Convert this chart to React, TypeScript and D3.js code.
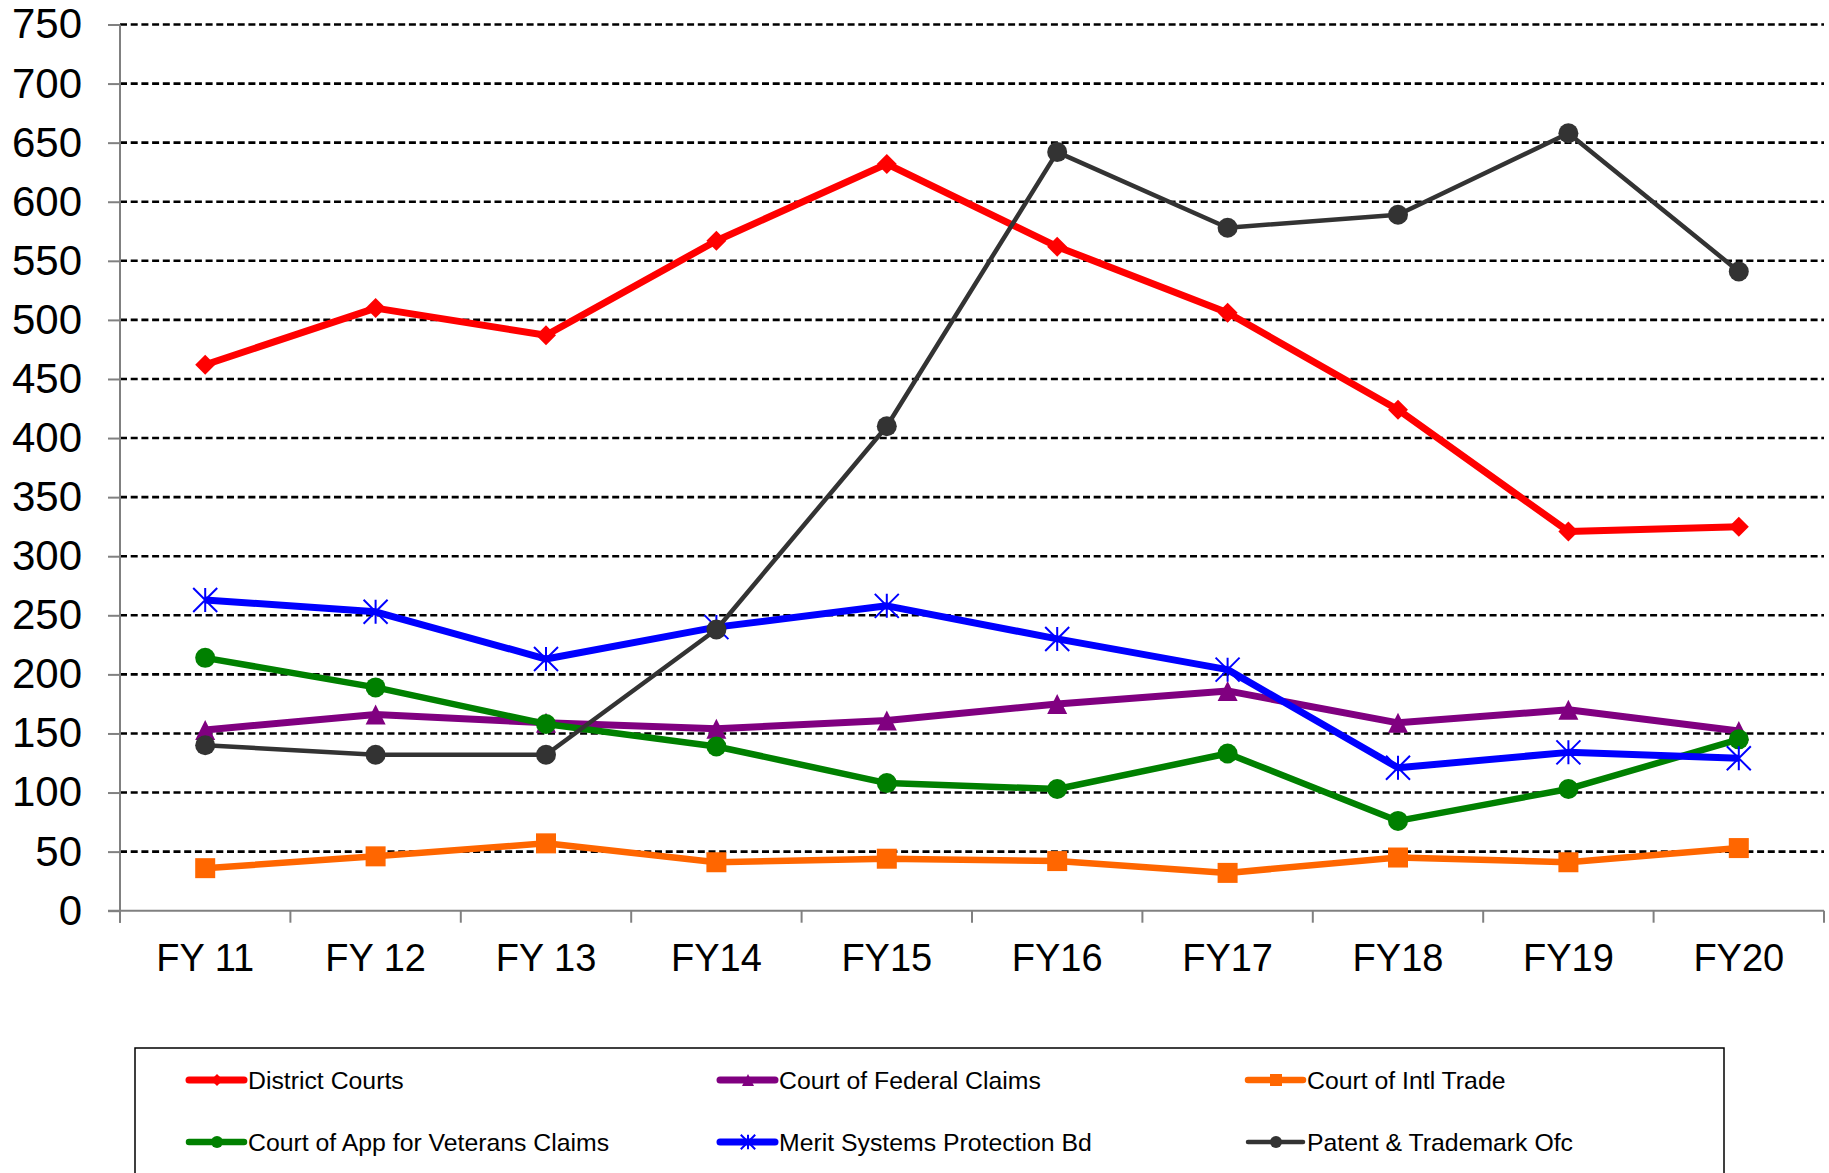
import React, { useEffect, useRef } from 'react';
import * as d3 from 'd3';

const years = ['FY 11', 'FY 12', 'FY 13', 'FY14', 'FY15', 'FY16', 'FY17', 'FY18', 'FY19', 'FY20'];
const yTicks = [0, 50, 100, 150, 200, 250, 300, 350, 400, 450, 500, 550, 600, 650, 700, 750];

const districtCourts = [462, 510, 487, 567, 632, 562, 506, 424, 321, 325];
const federalClaims = [153, 166, 159, 154, 161, 175, 186, 159, 170, 152];
const intlTrade = [36, 46, 57, 41, 44, 42, 32, 45, 41, 53];
const veteransClaims = [214, 189, 158, 139, 108, 103, 133, 76, 103, 145];
const meritSystems = [263, 253, 213, 240, 258, 230, 204, 121, 134, 129];
const patentTrademark = [140, 132, 132, 238, 410, 642, 578, 589, 658, 541];

type Marker = 'diamond' | 'triangle' | 'square' | 'circle' | 'star';

const series: { name: string; values: number[]; color: string; width: number; marker: Marker }[] = [
  { name: 'District Courts', values: districtCourts, color: '#FF0000', width: 7, marker: 'diamond' },
  { name: 'Court of Federal Claims', values: federalClaims, color: '#800080', width: 7, marker: 'triangle' },
  { name: 'Court of Intl Trade', values: intlTrade, color: '#FF6600', width: 6.5, marker: 'square' },
  { name: 'Court of App for Veterans Claims', values: veteransClaims, color: '#008000', width: 6.5, marker: 'circle' },
  { name: 'Merit Systems Protection Bd', values: meritSystems, color: '#0000FF', width: 7, marker: 'star' },
  { name: 'Patent & Trademark Ofc', values: patentTrademark, color: '#333333', width: 4.5, marker: 'circle' },
];

// draw one marker centered at (cx, cy)
function drawMarker(g: d3.Selection<SVGGElement, unknown, null, undefined>, type: Marker, cx: number, cy: number, color: string, big = true) {
  const k = big ? 1 : 0.6;
  if (type === 'circle') {
    g.append('circle').attr('cx', cx).attr('cy', cy).attr('r', 10 * k).attr('fill', color);
  } else if (type === 'square') {
    const s = 10 * k;
    g.append('rect').attr('x', cx - s).attr('y', cy - s).attr('width', 2 * s).attr('height', 2 * s).attr('fill', color);
  } else if (type === 'diamond') {
    const s = 10 * k;
    g.append('path')
      .attr('d', `M${cx},${cy - s}L${cx + s},${cy}L${cx},${cy + s}L${cx - s},${cy}Z`)
      .attr('fill', color);
  } else if (type === 'triangle') {
    const s = 10 * k;
    g.append('path')
      .attr('d', `M${cx},${cy - s}L${cx + s},${cy + s}L${cx - s},${cy + s}Z`)
      .attr('fill', color);
  } else {
    const s = 12 * k;
    g.append('path')
      .attr('d', `M${cx},${cy - s}L${cx},${cy + s}M${cx - s},${cy - s}L${cx + s},${cy + s}M${cx - s},${cy + s}L${cx + s},${cy - s}`)
      .attr('stroke', color)
      .attr('stroke-width', 2)
      .attr('fill', 'none');
  }
}

const App: React.FC = () => {
  const svgRef = useRef<SVGSVGElement>(null);

  useEffect(() => {
    if (!svgRef.current) return;
    const svg = d3.select(svgRef.current);
    svg.selectAll('*').remove();

    const left = 120;
    const right = 1824;
    const top = 24.5;
    const bottom = 910.7;
    const font = '"Liberation Sans", Arial, sans-serif';

    const x = d3.scaleBand<string>().domain(years).range([left, right]).padding(0);
    const cx = (c: string) => (x(c) ?? 0) + x.bandwidth() / 2;
    const y = d3.scaleLinear().domain([0, 750]).range([bottom, top]);

    const root = svg.append('g');

    // dashed gridlines
    root.append('g')
      .selectAll('line')
      .data(yTicks.filter(t => t > 0))
      .join('line')
      .attr('x1', left)
      .attr('x2', right)
      .attr('y1', d => y(d))
      .attr('y2', d => y(d))
      .attr('stroke', '#000')
      .attr('stroke-width', 2.6)
      .attr('stroke-dasharray', '7,3.7');

    // y axis
    const yAxis = root.append('g')
      .attr('transform', `translate(${left},0)`)
      .call(d3.axisLeft(y).tickValues(yTicks).tickSize(12).tickPadding(26));
    yAxis.select('.domain').attr('stroke', '#808080').attr('stroke-width', 2).attr('d', `M0,${top}V${bottom + 12}`);
    yAxis.selectAll('.tick line').attr('stroke', '#808080').attr('stroke-width', 2);
    yAxis.selectAll('.tick text')
      .attr('font-family', font)
      .attr('font-size', 42)
      .attr('fill', '#000');

    // x axis
    const xAxis = root.append('g').attr('transform', `translate(0,${bottom})`);
    xAxis.append('line')
      .attr('x1', left - 12)
      .attr('x2', right)
      .attr('stroke', '#808080')
      .attr('stroke-width', 2);
    xAxis.selectAll('line.tk')
      .data([...years.map(c => x(c) ?? 0), right])
      .join('line')
      .attr('class', 'tk')
      .attr('x1', d => d)
      .attr('x2', d => d)
      .attr('y1', 0)
      .attr('y2', 12)
      .attr('stroke', '#808080')
      .attr('stroke-width', 2);
    xAxis.selectAll('text')
      .data(years)
      .join('text')
      .attr('x', d => cx(d))
      .attr('y', 60)
      .attr('text-anchor', 'middle')
      .attr('font-family', font)
      .attr('font-size', 38)
      .attr('fill', '#000')
      .text(d => d);

    // series lines and markers
    const line = d3.line<number>()
      .x((_, i) => cx(years[i]))
      .y(d => y(d));

    series.forEach(s => {
      const g = root.append('g');
      g.append('path')
        .datum(s.values)
        .attr('fill', 'none')
        .attr('stroke', s.color)
        .attr('stroke-width', s.width)
        .attr('stroke-linejoin', 'round')
        .attr('d', line);
      s.values.forEach((v, i) => drawMarker(g, s.marker, cx(years[i]), y(v), s.color));
    });

    // legend
    const legend = root.append('g');
    legend.append('rect')
      .attr('x', 135)
      .attr('y', 1048)
      .attr('width', 1589)
      .attr('height', 200)
      .attr('fill', 'none')
      .attr('stroke', '#000')
      .attr('stroke-width', 1.5);

    const colX = [189, 720, 1248];
    const rowY = [1080, 1142];
    series.forEach((s, i) => {
      const lx = colX[i % 3];
      const ly = rowY[Math.floor(i / 3)];
      const g = legend.append('g');
      g.append('line')
        .attr('x1', lx)
        .attr('x2', lx + 55)
        .attr('y1', ly)
        .attr('y2', ly)
        .attr('stroke', s.color)
        .attr('stroke-width', s.width)
        .attr('stroke-linecap', 'round');
      drawMarker(g, s.marker, lx + 28, ly, s.color, false);
      g.append('text')
        .attr('x', lx + 59)
        .attr('y', ly)
        .attr('dy', '0.35em')
        .attr('font-family', font)
        .attr('font-size', 24.8)
        .attr('fill', '#000')
        .text(s.name);
    });
  }, []);

  return (
    <div style={{ position: 'absolute', left: 0, top: 0 }}>
      <svg ref={svgRef} width={1829} height={1173} style={{ display: 'block', background: '#fff' }} />
    </div>
  );
};

export default App;
